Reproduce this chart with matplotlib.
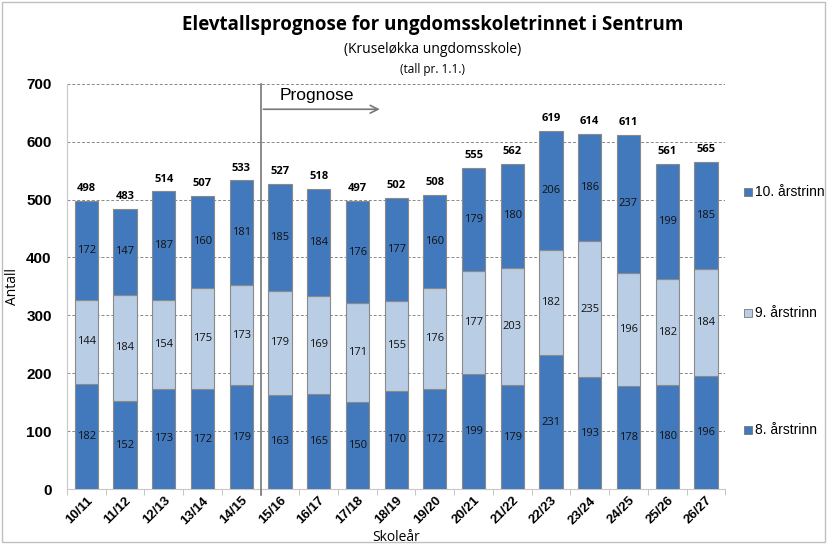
import numpy as np
import matplotlib.pyplot as plt
from matplotlib.patches import Rectangle

years = ['10/11', '11/12', '12/13', '13/14', '14/15', '15/16', '16/17', '17/18', '18/19',
         '19/20', '20/21', '21/22', '22/23', '23/24', '24/25', '25/26', '26/27']
trinn8 = [182, 152, 173, 172, 179, 163, 165, 150, 170, 172, 199, 179, 231, 193, 178, 180, 196]
trinn9 = [144, 184, 154, 175, 173, 179, 169, 171, 155, 176, 177, 203, 182, 235, 196, 182, 184]
trinn10 = [172, 147, 187, 160, 181, 185, 184, 176, 177, 160, 179, 180, 206, 186, 237, 199, 185]
totals = [498, 483, 514, 507, 533, 527, 518, 497, 502, 508, 555, 562, 619, 614, 611, 561, 565]

dark = '#4279BC'
light = '#B9CDE5'

fig = plt.figure(figsize=(8.27, 5.44), dpi=100)
ax = fig.add_axes([0.081, 0.101, 0.796, 0.745])

x = np.arange(len(years))
w = 0.6
b8 = np.array(trinn8)
b9 = np.array(trinn9)
b10 = np.array(trinn10)

ax.bar(x, b8, w, color=dark, edgecolor='#8a8a8a', linewidth=0.8, zorder=3)
ax.bar(x, b9, w, bottom=b8, color=light, edgecolor='#8a8a8a', linewidth=0.8, zorder=3)
ax.bar(x, b10, w, bottom=b8 + b9, color=dark, edgecolor='#8a8a8a', linewidth=0.8, zorder=3)

lbl = dict(ha='center', va='center', fontsize=8, color='#111111', family='Open Sans', zorder=4)
for i in range(len(years)):
    ax.text(x[i], b8[i] / 2, str(b8[i]), **lbl)
    ax.text(x[i], b8[i] + b9[i] / 2, str(b9[i]), **lbl)
    ax.text(x[i], b8[i] + b9[i] + b10[i] / 2, str(b10[i]), **lbl)
    ax.text(x[i], totals[i] + 12, str(totals[i]), ha='center', va='bottom', fontsize=8,
            fontweight='bold', family='Open Sans', zorder=4)

ax.set_xlim(-0.5, len(years) - 0.5)
ax.set_ylim(0, 700)
ax.set_yticks(range(0, 701, 100))
ax.set_yticklabels([str(v) for v in range(0, 701, 100)], fontweight='bold', fontsize=11, family='Liberation Sans')
ax.yaxis.grid(True, linestyle=(0, (3, 2)), color='#888888', linewidth=0.7, zorder=0)
ax.tick_params(axis='y', length=0, pad=11)

ax.set_xticks(x)
ax.set_xticklabels(years, rotation=45, ha='right', rotation_mode='anchor', fontweight='bold',
                   fontsize=9.5, family='Liberation Sans')
ax.tick_params(axis='x', length=0, pad=4)
ax.set_xticks(np.arange(-0.5, len(years), 1), minor=True)
ax.tick_params(axis='x', which='minor', length=4, color='#bbbbbb', direction='out')

for s in ['top', 'right']:
    ax.spines[s].set_visible(False)
ax.spines['left'].set_color('#c8c8c8')
ax.spines['bottom'].set_color('#c8c8c8')

# prognose marker
ax.plot([4.5, 4.5], [-10, 700], color='#777777', linewidth=1.2, clip_on=False, zorder=5)
ax.annotate('', xy=(7.65, 656), xytext=(4.5, 656),
            arrowprops=dict(arrowstyle='->', color='#777777', lw=1.2, mutation_scale=14), zorder=5)
ax.text(4.98, 667, 'Prognose', fontsize=12.5, family='Liberation Sans', va='bottom', ha='left')

ax.set_ylabel('Antall', fontsize=10, family='Open Sans')
ax.yaxis.set_label_coords(-0.072, 0.5)
ax.set_xlabel('Skoleår', fontsize=10, family='Open Sans', va='center')
ax.xaxis.set_label_coords(0.5, -0.12)

fig.text(0.523, 0.945, 'Elevtallsprognose for ungdomsskoletrinnet i Sentrum', ha='center',
         fontsize=13.5, fontweight='bold', family='Open Sans')
fig.text(0.523, 0.902, '(Kruseløkka ungdomsskole)', ha='center', fontsize=10, family='Open Sans')
fig.text(0.523, 0.866, '(tall pr. 1.1.)', ha='center', fontsize=8.5, family='Open Sans')

# legend entries
leg_items = [('10. årstrinn', dark, 192), ('9. årstrinn', light, 313), ('8. årstrinn', dark, 430)]
for label, col, py in leg_items:
    fy = 1 - py / 544
    fig.patches.append(Rectangle((744 / 827, fy - 4 / 544), 8 / 827, 8 / 544, transform=fig.transFigure,
                                 facecolor=col, edgecolor='#777777', linewidth=0.6))
    fig.text(755 / 827, fy, label, va='center', ha='left', fontsize=10, family='Liberation Sans')

fig.patches.append(Rectangle((0.003, 0.003), 0.994, 0.994, transform=fig.transFigure,
                             facecolor='none', edgecolor='#c0c0c0', linewidth=1))

fig.savefig('out.png', dpi=100)
